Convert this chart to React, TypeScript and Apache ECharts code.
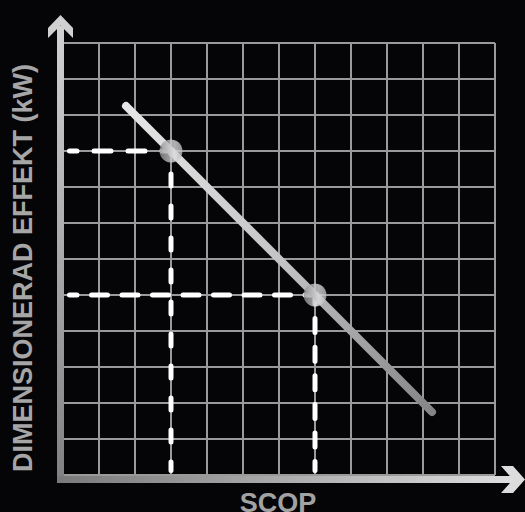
import React, { useEffect, useRef } from "react";
import * as echarts from "echarts";

// ---- data ----
const AXIS_MIN = 0;
const AXIS_MAX = 12;
const AXIS_STEP = 1;
const trendLine: number[][] = [
  [1.75, 10.25],
  [10.25, 1.75],
];
const operatingPoints: number[][] = [
  [3, 9],
  [7, 5],
];
const xAxisTitle = "SCOP";
const yAxisTitle = "DIMENSIONERAD EFFEKT (kW)";
// where the dashed guides stop, in axis units
const GUIDE_END_X = 0.18;
const GUIDE_END_Y = 0.125;

// ---- layout / style ----
const W = 525;
const H = 512;
const GL = 63;
const GT = 43;
const GW = 432;
const GH = 432;
const BG = "#050507";
const GRID_COLOR = "#9a9a9a";

const hDash = [
  { type: [17, 17], offset: 7.5 },
  { type: [16, 14.5], offset: 6 },
];
const vDash = [
  { type: [12, 20], offset: 8.5 },
  { type: [14, 14.6], offset: 5.1 },
];

export default function App() {
  const ref = useRef<HTMLDivElement>(null);
  useEffect(() => {
    if (!ref.current) return;
    const chart = echarts.init(ref.current, undefined, { renderer: "svg" });

    const guideSeries: any[] = [];
    operatingPoints.forEach((p, i) => {
      guideSeries.push({
        type: "line",
        data: [p, [GUIDE_END_X, p[1]]],
        symbol: "none",
        silent: true,
        z: 3,
        lineStyle: {
          color: "#ffffff",
          width: 5,
          type: hDash[i].type,
          dashOffset: hDash[i].offset,
          cap: "round",
        },
      });
      guideSeries.push({
        type: "line",
        data: [p, [p[0], GUIDE_END_Y]],
        symbol: "none",
        silent: true,
        z: 3,
        lineStyle: {
          color: "#ffffff",
          width: 5,
          type: vDash[i].type,
          dashOffset: vDash[i].offset,
          cap: "round",
        },
      });
    });

    const xBarY = GT + GH + 1; // 476
    const yBarX = GL - 6; // 57

    chart.setOption({
      animation: false,
      backgroundColor: BG,
      grid: { left: GL, top: GT, width: GW, height: GH, containLabel: false },
      xAxis: {
        type: "value",
        min: AXIS_MIN,
        max: AXIS_MAX,
        interval: AXIS_STEP,
        axisLine: { show: false },
        axisTick: { show: false },
        axisLabel: { show: false },
        splitLine: { show: true, lineStyle: { color: GRID_COLOR, width: 2 } },
      },
      yAxis: {
        type: "value",
        min: AXIS_MIN,
        max: AXIS_MAX,
        interval: AXIS_STEP,
        axisLine: { show: false },
        axisTick: { show: false },
        axisLabel: { show: false },
        splitLine: { show: true, lineStyle: { color: GRID_COLOR, width: 2 } },
      },
      series: [
        {
          type: "line",
          data: trendLine,
          symbol: "none",
          silent: true,
          z: 4,
          lineStyle: {
            width: 8,
            cap: "round",
            color: new echarts.graphic.LinearGradient(0, 0, 1, 1, [
              { offset: 0, color: "#e6e6e6" },
              { offset: 0.5, color: "#c4c4c6" },
              { offset: 1, color: "#858587" },
            ]),
          },
        },
        ...guideSeries,
        {
          type: "scatter",
          data: operatingPoints,
          symbol: "circle",
          symbolSize: 23,
          silent: true,
          z: 6,
          itemStyle: {
            color: new echarts.graphic.LinearGradient(0, 0, 1, 0, [
              { offset: 0, color: "#8c8c8e" },
              { offset: 0.65, color: "#dcdcde" },
              { offset: 1, color: "#b8b8ba" },
            ]),
          },
        },
      ],
      graphic: [
        {
          type: "rect",
          z: 100,
          shape: { x: yBarX, y: 26, width: 7, height: xBarY + 7 - 26 },
          style: {
            fill: new echarts.graphic.LinearGradient(0, 0, 0, 1, [
              { offset: 0, color: "#d2d2d2" },
              { offset: 1, color: "#808080" },
            ]),
          },
        },
        {
          type: "polygon",
          z: 100,
          shape: {
            points: [
              [60.5, 15],
              [73, 28],
              [73, 38],
              [60.5, 25.5],
              [48, 38],
              [48, 28],
            ],
          },
          style: { fill: "#d0d0d0" },
        },
        {
          type: "rect",
          z: 100,
          shape: { x: yBarX, y: xBarY, width: 514 - yBarX, height: 7 },
          style: {
            fill: new echarts.graphic.LinearGradient(0, 0, 1, 0, [
              { offset: 0, color: "#7a7a7a" },
              { offset: 1, color: "#dedede" },
            ]),
          },
        },
        {
          type: "polygon",
          z: 100,
          shape: {
            points: [
              [501, 466],
              [513, 466],
              [525, 479.5],
              [513, 493],
              [501, 493],
              [513, 479.5],
            ],
          },
          style: { fill: "#dcdcdc" },
        },
        {
          type: "text",
          z: 100,
          x: 23,
          y: 268,
          rotation: Math.PI / 2,
          style: {
            text: yAxisTitle,
            fill: "#a6a6a6",
            font: 'bold 27px "Liberation Sans", Arial, sans-serif',
            align: "center",
            verticalAlign: "middle",
          },
        },
        {
          type: "text",
          z: 100,
          x: 278,
          y: 503,
          style: {
            text: xAxisTitle,
            fill: "#a2a2a2",
            font: 'bold 27px "Liberation Sans", Arial, sans-serif',
            align: "center",
            verticalAlign: "middle",
          },
        },
      ],
    });
    return () => chart.dispose();
  }, []);

  return (
    <div
      ref={ref}
      style={{ position: "fixed", left: 0, top: 0, width: W, height: H }}
    />
  );
}
